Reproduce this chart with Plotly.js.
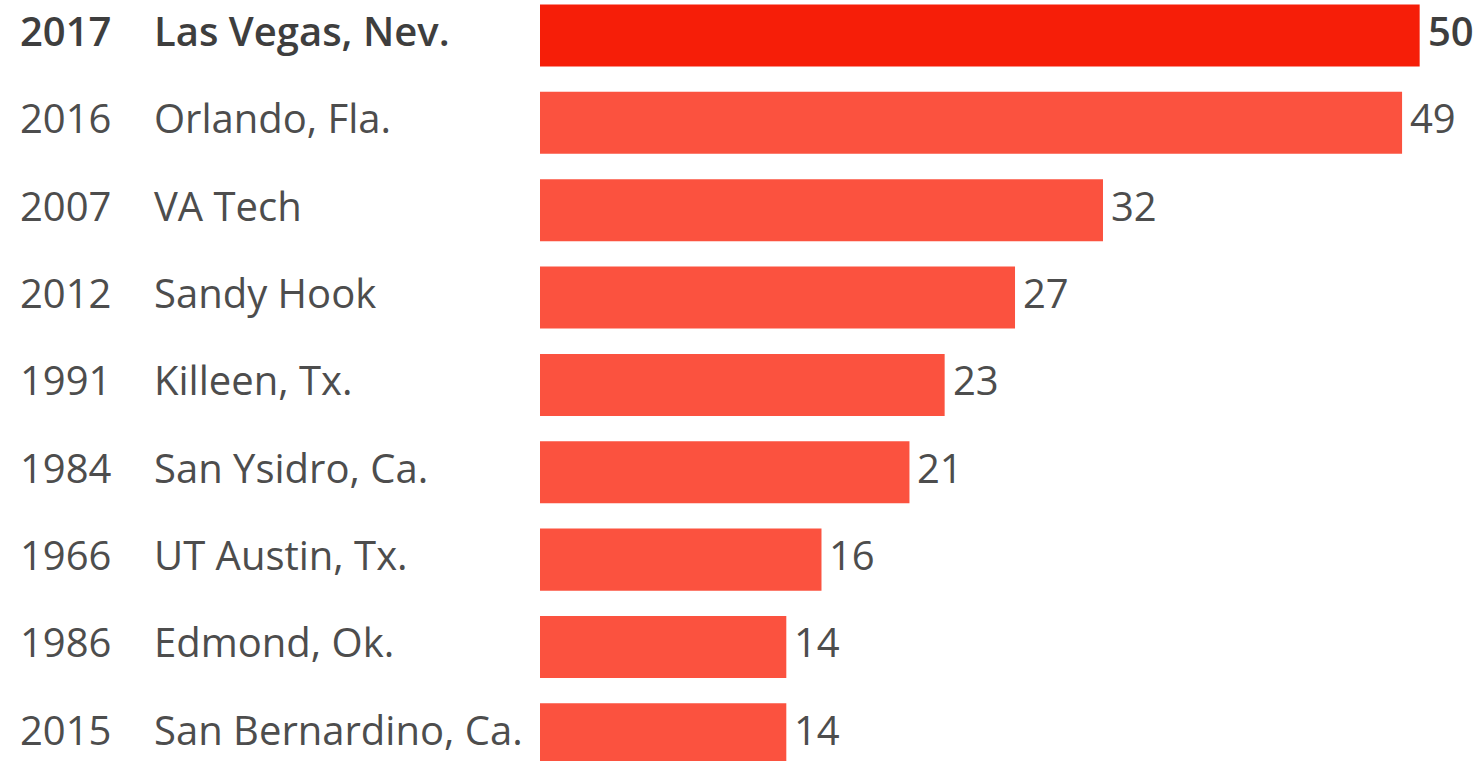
<!DOCTYPE html>
<html>
<head>
<meta charset="utf-8">
<script src="https://cdn.plot.ly/plotly-3.0.1.min.js"></script>
<style>html,body{margin:0;padding:0;background:#fff;}#chart{width:1483px;height:761px;}</style>
</head>
<body>
<div id="chart"></div>
<script>
const years = ["2017", "2016", "2007", "2012", "1991", "1984", "1966", "1986", "2015"];
const places = ["Las Vegas, Nev.", "Orlando, Fla.", "VA Tech", "Sandy Hook", "Killeen, Tx.", "San Ysidro, Ca.", "UT Austin, Tx.", "Edmond, Ok.", "San Bernardino, Ca."];
const deaths = [50, 49, 32, 27, 23, 21, 16, 14, 14];

const W = 1483, H = 761, L = 540;
const idx = deaths.map((d, i) => i);
const colors = deaths.map((d, i) => i === 0 ? "#F61E08" : "#FB523F");
const FONT = "Open Sans, sans-serif";
const TXT = "#4d4d4d";
const BOLDTXT = "#3e3e3e";
const YS = 5;

const trace = {
  type: "bar",
  orientation: "h",
  x: deaths,
  y: idx,
  width: 0.71,
  marker: {color: colors, line: {width: 0}},
  hoverinfo: "none"
};

const annotations = [];
idx.forEach(i => {
  const bold = i === 0;
  const f = {family: FONT, size: 40, color: bold ? BOLDTXT : TXT, weight: bold ? 600 : 400};
  annotations.push({
    xref: "paper", yref: "y", x: (18 - L) / (W - L), y: i, yshift: YS,
    xanchor: "left", yanchor: "middle", showarrow: false,
    text: years[i], font: f
  });
  annotations.push({
    xref: "paper", yref: "y", x: (152 - L) / (W - L), y: i, yshift: YS,
    xanchor: "left", yanchor: "middle", showarrow: false,
    text: places[i], font: f
  });
  annotations.push({
    xref: "x", yref: "y", x: deaths[i], y: i, yshift: YS, xshift: 6,
    xanchor: "left", yanchor: "middle", showarrow: false,
    text: String(deaths[i]), font: f
  });
});

const layout = {
  width: W, height: H,
  margin: {l: L, r: 0, t: 0, b: 0, pad: 0},
  paper_bgcolor: "#fff", plot_bgcolor: "#fff",
  showlegend: false,
  xaxis: {range: [0, 53.6], visible: false, fixedrange: true},
  yaxis: {range: [8.305, -0.406], visible: false, fixedrange: true},
  annotations: annotations,
  font: {family: FONT}
};

Plotly.newPlot("chart", [trace], layout, {displayModeBar: false, staticPlot: true});
</script>
</body>
</html>
